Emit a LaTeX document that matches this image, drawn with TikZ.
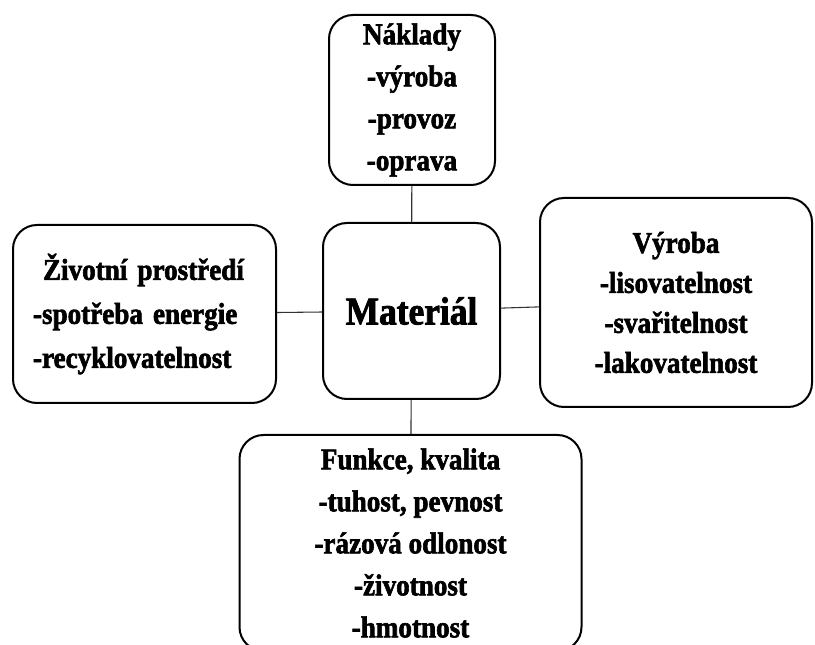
\documentclass[tikz,border=0pt]{standalone}
\usepackage{fontspec}
\setmainfont{Liberation Serif}[BoldFeatures={FakeBold=2,FakeStretch=0.9}]

\begin{document}
\begin{tikzpicture}[x=0.75pt,y=-0.75pt,
    topic/.style={draw,line width=1.5pt,rounded corners=18pt,inner sep=0pt,
      font=\bfseries\fontsize{22.6}{31.5}\selectfont,align=center},
    link/.style={line width=0.8pt,black!80}]

	% page frame
	\path[use as bounding box,clip] (0,0) rectangle (815,645);

	% the boxes
	\node[topic,minimum width=132.75pt,minimum height=132pt,
	  font=\bfseries\fontsize{29.5}{33}\selectfont] (material) at (411.5,311) {Materiál};
	\node[topic,minimum width=124.5pt,minimum height=127.5pt] (naklady) at (412,100)
	  {Náklady\\-výroba\\-provoz\\-oprava};
	\node[topic,minimum width=197.25pt,minimum height=133.5pt,
	  align=left,text width=167.25pt,font=\bfseries\fontsize{22.6}{33}\selectfont] (zivotni) at (144.5,314)
	  {\hspace*{7.5pt}Životní prostředí\\-spotřeba energie\\-recyklovatelnost};
	\node[topic,minimum width=204pt,minimum height=156.75pt,
	  font=\bfseries\fontsize{22.6}{30}\selectfont] (vyroba) at (676,302.5)
	  {Výroba\\-lisovatelnost\\-svařitelnost\\-lakovatelnost};
	\node[topic,minimum width=256.5pt,minimum height=162pt] (funkce) at (410.5,543)
	  {Funkce, kvalita\\-tuhost, pevnost\\-rázová odlonost\\-životnost\\-hmotnost};

	% lines to the centre
	\foreach \Box in {naklady,zivotni,vyroba,funkce}
	  \draw[link] (material) -- (\Box);
\end{tikzpicture}
\end{document}
